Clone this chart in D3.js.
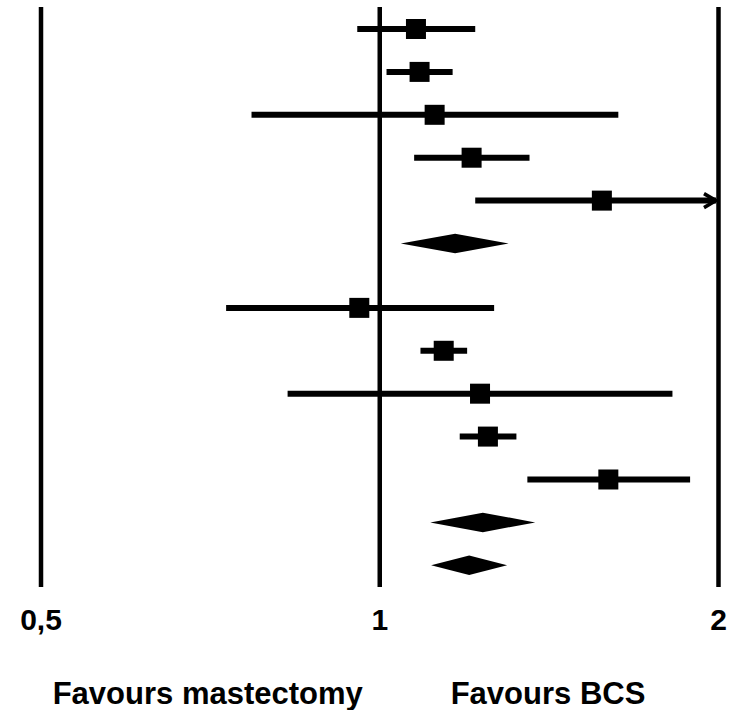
<!DOCTYPE html>
<html>
<head>
<meta charset="utf-8">
<script src="https://cdn.jsdelivr.net/npm/d3@7"></script>
<style>
  body { margin: 0; background: #fff; }
  text { font-family: "Liberation Sans", Arial, sans-serif; font-weight: bold; fill: #000; }
</style>
</head>
<body>
<div id="chart"></div>
<script>
// hazard ratios, first block
const estA = [1.078, 1.086, 1.120, 1.208, 1.577];
const lowA = [0.956, 1.015, 0.770, 1.074, 1.217];
const highA = [1.217, 1.162, 1.631, 1.360, 2.6];
const pooledA = [{ est: 1.168, low: 1.045, high: 1.303 }];

// second block
const estB = [0.960, 1.141, 1.229, 1.249, 1.598];
const lowB = [0.731, 1.088, 0.829, 1.179, 1.354];
const highB = [1.265, 1.197, 1.822, 1.324, 1.889];
const pooledB = [
  { est: 1.236, low: 1.110, high: 1.376 },
  { est: 1.202, low: 1.112, high: 1.299 }
];

const tickValues = [0.5, 1, 2];
const tickLabels = ['0,5', '1', '2'];
const sideLabels = ['Favours mastectomy', 'Favours BCS'];

const width = 732, height = 710;

// build rows: studies then pooled diamonds, small gap between the blocks
const rows = [];
let r = 0;
estA.forEach((d, i) => rows.push({ type: 'study', est: d, low: lowA[i], high: highA[i], row: r++ }));
pooledA.forEach(d => rows.push(Object.assign({ type: 'pooled', row: r++ }, d)));
r += 0.5;
estB.forEach((d, i) => rows.push({ type: 'study', est: d, low: lowB[i], high: highB[i], row: r++ }));
pooledB.forEach(d => rows.push(Object.assign({ type: 'pooled', row: r++ }, d)));

const x = d3.scaleLog().domain([0.5, 2]).range([40.5, 718]);
const y = d3.scaleLinear().domain([0, d3.max(rows, d => d.row)]).range([29, 565.3]);

const svg = d3.select('#chart').append('svg')
  .attr('width', width)
  .attr('height', height);

// reference lines as full-height ticks
const axisY = 587;
const axis = d3.axisBottom(x)
  .tickValues(tickValues)
  .tickFormat((d, i) => tickLabels[i])
  .tickSizeInner(-(axisY - 7))
  .tickSizeOuter(0)
  .tickPadding(22);

const gAxis = svg.append('g')
  .attr('transform', `translate(0,${axisY})`)
  .call(axis);
gAxis.select('.domain').remove();
gAxis.selectAll('.tick line').attr('stroke', '#000').attr('stroke-width', 4.5);
gAxis.selectAll('.tick text')
  .attr('font-size', 30)
  .attr('font-family', '"Liberation Sans", Arial, sans-serif')
  .attr('font-weight', 'bold')
  .attr('fill', '#000');

const xMax = x.domain()[1];

// confidence interval lines
const studies = rows.filter(d => d.type === 'study');
svg.append('g').selectAll('line')
  .data(studies)
  .enter()
  .append('line')
  .attr('x1', d => x(d.low))
  .attr('x2', d => x(Math.min(d.high, xMax)) - (d.high > xMax ? 2 : 0))
  .attr('y1', d => y(d.row))
  .attr('y2', d => y(d.row))
  .attr('stroke', '#000')
  .attr('stroke-width', 6);

// arrow where the interval runs past the axis
svg.append('g').selectAll('path')
  .data(studies.filter(d => d.high > xMax))
  .enter()
  .append('path')
  .attr('d', d => {
    const xe = x(xMax) - 2, yy = y(d.row);
    return `M${xe - 12},${yy - 7}L${xe},${yy}L${xe - 12},${yy + 7}`;
  })
  .attr('fill', 'none')
  .attr('stroke', '#000')
  .attr('stroke-width', 3.5);

// point estimates
const sq = 20;
svg.append('g').selectAll('rect')
  .data(studies)
  .enter()
  .append('rect')
  .attr('x', d => x(d.est) - sq / 2)
  .attr('y', d => y(d.row) - sq / 2)
  .attr('width', sq)
  .attr('height', sq)
  .attr('fill', '#000');

// pooled diamonds
const dh = 19.5;
svg.append('g').selectAll('polygon')
  .data(rows.filter(d => d.type === 'pooled'))
  .enter()
  .append('polygon')
  .attr('points', d => {
    const yy = y(d.row);
    return [[x(d.low), yy], [x(d.est), yy - dh / 2], [x(d.high), yy], [x(d.est), yy + dh / 2]]
      .map(p => p.join(',')).join(' ');
  })
  .attr('fill', '#000');

// side labels
svg.append('g').selectAll('text')
  .data(sideLabels)
  .enter()
  .append('text')
  .attr('x', (d, i) => [52.7, 450.7][i])
  .attr('y', 703.5)
  .attr('font-size', 31)
  .text(d => d);
</script>
</body>
</html>
